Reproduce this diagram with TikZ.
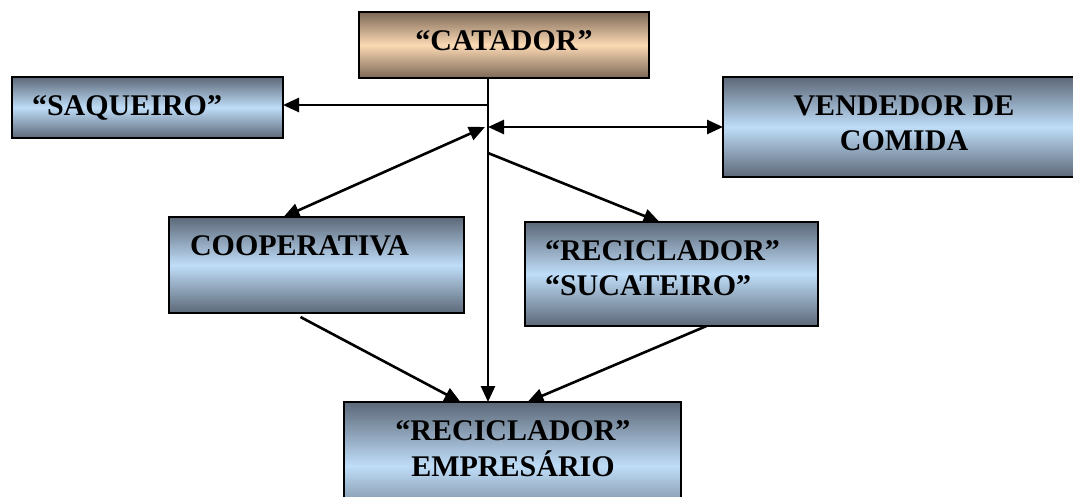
\documentclass[tikz,border=0pt]{standalone}
\usepackage{fontspec}
\setmainfont{Liberation Serif}
\usetikzlibrary{arrows.meta}
\definecolor{bdark}{RGB}{92,104,120}
\definecolor{blight}{RGB}{191,221,248}
\definecolor{cdark}{RGB}{124,104,86}
\definecolor{clight}{RGB}{251,217,180}
\newcommand\mylinesL[1]{\begin{tabular}[t]{@{}l@{}}#1\end{tabular}}
\newcommand\mylinesC[1]{\begin{tabular}[t]{@{}c@{}}#1\end{tabular}}
\tikzset{
  box/.style={draw=black, line width=1.4pt, rectangle, inner sep=0pt, outer sep=0pt},
  bluebox/.style={box, top color=bdark, bottom color=bdark, middle color=blight},
  brownbox/.style={box, top color=cdark, bottom color=cdark, middle color=clight},
  txt/.style={inner sep=0pt, outer sep=0pt, font=\fontsize{30}{35}\selectfont\bfseries},
  tip/.tip={Triangle[length=16pt,width=14pt]},
  arr/.style={line width=2.6pt, -tip},
  arrboth/.style={line width=2.6pt, tip-tip}
}
\begin{document}
\begin{tikzpicture}[x=1pt,y=-1pt]
\clip (0,0) rectangle (1073,496);
\fill[white] (0,0) rectangle (1073,496);
% boxes
\node[brownbox, minimum width=290pt, minimum height=66pt] (catador) at (504,45) {};
\node[bluebox, minimum width=271pt, minimum height=61pt] (saq) at (147.5,107.5) {};
\node[bluebox, minimum width=362pt, minimum height=100pt] (vend) at (904,127) {};
\node[bluebox, minimum width=295pt, minimum height=96pt] (coop) at (316.5,265) {};
\node[bluebox, minimum width=293pt, minimum height=104pt] (rec) at (671.5,274) {};
\node[bluebox, minimum width=337pt, minimum height=128pt] (emp) at (512.5,466) {};
% texts
\node[txt, anchor=base] (catadortxt) at (504,50) {“CATADOR”};
\node[txt, anchor=base west] (saqtxt) at (32,115) {“SAQUEIRO”};
\node[txt, anchor=base] (vendtxt) at (904,115) {\mylinesC{VENDEDOR DE\\COMIDA}};
\node[txt, anchor=base west] (cooptxt) at (190,255) {COOPERATIVA};
\node[txt, anchor=base west] (rectxt) at (545,260) {\mylinesL{“RECICLADOR”\\“SUCATEIRO”}};
\node[txt, anchor=base] (emptxt) at (513,440) {\mylinesC{“RECICLADOR”\\EMPRESÁRIO}};
% junctions on the vertical line
\coordinate (j1) at (488,105);
\coordinate (j2) at (488,127);
\coordinate (j3) at (488,153);
% connectors
\draw[arr] (catador.south -| j1) -- (emp.north -| j1);
\draw[arr] (j1) -- (saq.east |- j1);
\draw[arrboth] (j2) -- (vend.west |- j2);
\draw[arrboth] ([xshift=-3pt]j2) -- ([xshift=-33pt]coop.north);
\draw[arr] (j3) -- ([xshift=-12pt]rec.north);
\draw[arr] ([xshift=-16pt, yshift=-4pt]coop.south) -- ([xshift=-52pt]emp.north);
\draw[arr] ([xshift=35pt]rec.south) -- ([xshift=15pt]emp.north);
\end{tikzpicture}
\end{document}
